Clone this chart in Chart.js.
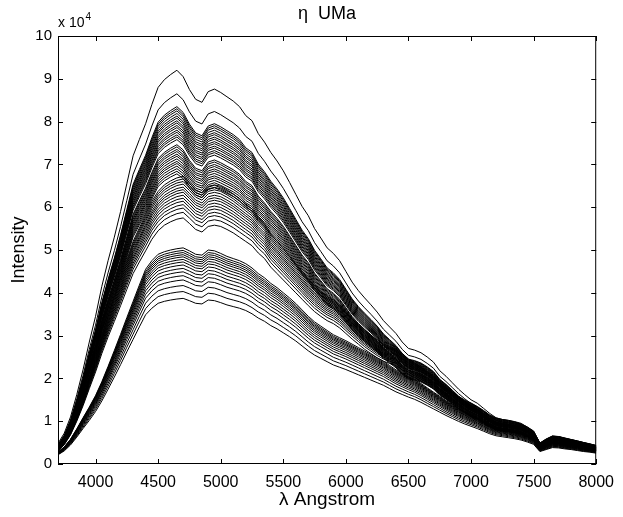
<!DOCTYPE html>
<html>
<head>
<meta charset="utf-8">
<script src="https://cdn.jsdelivr.net/npm/chart.js@4.4.0/dist/chart.umd.min.js"></script>
<style>
  html, body { margin: 0; padding: 0; background: #fff; }
</style>
</head>
<body>
<canvas id="spectraChart" width="623" height="517"></canvas>
<script>
// wavelength samples (Angstrom)
const lambda = [
  3700, 3750, 3800, 3850, 3900, 3950, 4000, 4050, 4100, 4150, 4200, 4250, 4300, 4350, 4400,
  4450, 4500, 4550, 4600, 4650, 4700, 4750, 4800, 4850, 4900, 4950, 5000, 5050, 5100, 5150,
  5200, 5250, 5300, 5350, 5400, 5450, 5500, 5550, 5600, 5650, 5700, 5750, 5800, 5850, 5900,
  5950, 6000, 6050, 6100, 6150, 6200, 6250, 6300, 6350, 6400, 6450, 6500, 6550, 6600, 6650,
  6700, 6750, 6800, 6850, 6900, 6950, 7000, 7050, 7100, 7150, 7200, 7250, 7300, 7350, 7400,
  7450, 7500, 7550, 7600, 7650, 7700, 7750, 7800, 7850, 7900, 7950, 8000
];

// brightest spectrum (x 10^4)
const curveBright = [
  0.48, 0.72, 1.10, 1.62, 2.20, 2.85, 3.45, 4.15, 4.75, 5.30, 5.90, 6.55, 7.20, 7.58, 7.95,
  8.40, 8.80, 8.98, 9.10, 9.20, 9.05, 8.75, 8.52, 8.45, 8.70, 8.76, 8.68, 8.58, 8.48, 8.35,
  8.14, 8.02, 7.72, 7.52, 7.28, 7.08, 6.85, 6.58, 6.30, 6.02, 5.80, 5.50, 5.28, 5.05, 4.92,
  4.75, 4.50, 4.25, 4.05, 3.88, 3.72, 3.55, 3.35, 3.20, 3.05, 2.85, 2.70, 2.66, 2.60, 2.50,
  2.38, 2.18, 2.05, 1.90, 1.75, 1.62, 1.50, 1.42, 1.30, 1.18, 1.08, 1.04, 1.02, 0.99, 0.95,
  0.86, 0.75, 0.48, 0.56, 0.65, 0.64, 0.60, 0.57, 0.54, 0.50, 0.47, 0.43
];

// faintest spectrum of the upper bundle
const curveMid = [
  0.30, 0.45, 0.68, 1.00, 1.36, 1.76, 2.15, 2.58, 2.97, 3.33, 3.70, 4.08, 4.45, 4.72, 4.98,
  5.25, 5.45, 5.58, 5.66, 5.72, 5.75, 5.62, 5.48, 5.42, 5.55, 5.58, 5.55, 5.48, 5.40, 5.30,
  5.20, 5.10, 4.93, 4.80, 4.60, 4.45, 4.30, 4.15, 4.00, 3.85, 3.70, 3.56, 3.45, 3.35, 3.28,
  3.18, 3.05, 2.92, 2.80, 2.68, 2.58, 2.48, 2.40, 2.35, 2.30, 2.20, 2.10, 2.02, 1.94, 1.85,
  1.76, 1.64, 1.53, 1.44, 1.35, 1.28, 1.22, 1.15, 1.07, 0.98, 0.92, 0.89, 0.87, 0.84, 0.80,
  0.74, 0.66, 0.42, 0.50, 0.56, 0.55, 0.52, 0.49, 0.46, 0.43, 0.40, 0.37
];

// top spectrum of the lower bundle
const curveLow = [
  0.28, 0.40, 0.58, 0.82, 1.08, 1.33, 1.60, 1.92, 2.28, 2.65, 3.03, 3.42, 3.80, 4.18, 4.55,
  4.75, 4.90, 4.96, 5.00, 5.03, 5.05, 4.98, 4.90, 4.88, 5.00, 4.98, 4.92, 4.85, 4.80, 4.75,
  4.68, 4.58, 4.45, 4.35, 4.22, 4.12, 4.00, 3.88, 3.75, 3.60, 3.45, 3.32, 3.22, 3.12, 3.02,
  2.95, 2.88, 2.80, 2.72, 2.64, 2.56, 2.48, 2.40, 2.30, 2.20, 2.12, 2.04, 1.97, 1.88, 1.78,
  1.68, 1.58, 1.48, 1.39, 1.30, 1.22, 1.15, 1.08, 1.00, 0.92, 0.86, 0.83, 0.80, 0.77, 0.73,
  0.67, 0.60, 0.38, 0.44, 0.50, 0.49, 0.46, 0.44, 0.41, 0.38, 0.36, 0.33
];

// peak heights of the individual spectra (x 10^4)
const peaksBright = [9.2, 8.65, 8.35, 8.3, 8.25, 8.19, 8.13, 8.08, 8.02, 7.97, 7.91, 7.86, 7.8,
  7.75, 7.69, 7.64, 7.58, 7.46, 7.41, 7.35, 7.3, 7.24, 7.19, 7.13, 7.07, 7.02, 6.96, 6.9, 6.84,
  6.78];
const peaksMid = [6.72, 6.66, 6.6, 6.54, 6.47, 6.41, 6.35, 6.28, 6.21, 6.14, 6.06, 5.98, 5.88,
  5.75];
const peaksLow = [5.05, 4.99, 4.94, 4.89, 4.84, 4.78, 4.72, 4.65, 4.57, 4.49, 4.4, 4.3, 4.17,
  4.03, 3.87];

const xTicks = [4000, 4500, 5000, 5500, 6000, 6500, 7000, 7500, 8000];
const yTicks = [0, 1, 2, 3, 4, 5, 6, 7, 8, 9, 10];

function makeSet(curve, peak) {
  const top = Math.max(...curve);
  return {
    data: lambda.map((w, i) => ({ x: w, y: curve[i] * peak / top })),
    borderColor: '#000',
    borderWidth: 1,
    pointRadius: 0,
    tension: 0,
    fill: false
  };
}

const datasets = [
  ...peaksBright.map(p => makeSet(curveBright, p)),
  ...peaksMid.map(p => makeSet(curveMid, p)),
  ...peaksLow.map(p => makeSet(curveLow, p))
];

const FONT = 'Liberation Sans, Arial, Helvetica, sans-serif';

// box, inward ticks and the text around the axes
const frame = {
  id: 'frame',
  afterDraw(chart) {
    const { ctx, chartArea: a, scales: { x, y } } = chart;
    ctx.save();
    ctx.strokeStyle = '#000';
    ctx.lineWidth = 1;
    ctx.strokeRect(a.left + 0.5, a.top + 0.5, a.right - a.left - 1, a.bottom - a.top - 1);
    ctx.beginPath();
    xTicks.forEach(v => {
      const px = Math.round(x.getPixelForValue(v)) + 0.5;
      ctx.moveTo(px, a.bottom); ctx.lineTo(px, a.bottom - 5);
      ctx.moveTo(px, a.top); ctx.lineTo(px, a.top + 5);
    });
    yTicks.forEach(v => {
      const py = Math.round(y.getPixelForValue(v)) + 0.5;
      ctx.moveTo(a.left, py); ctx.lineTo(a.left + 5, py);
      ctx.moveTo(a.right, py); ctx.lineTo(a.right - 5, py);
    });
    ctx.stroke();

    ctx.fillStyle = '#000';
    ctx.textAlign = 'center';
    ctx.textBaseline = 'alphabetic';
    ctx.font = '18px ' + FONT;
    ctx.fillText('η  UMa', (a.left + a.right) / 2, 19);
    ctx.font = '19px ' + FONT;
    ctx.fillText('λ Angstrom', (a.left + a.right) / 2, 505);

    ctx.textAlign = 'left';
    ctx.font = '14px ' + FONT;
    ctx.fillText('x 10', a.left, 27);
    const w = ctx.measureText('x 10').width;
    ctx.font = '10px ' + FONT;
    ctx.fillText('4', a.left + w + 1, 20);

    ctx.save();
    ctx.translate(24, (a.top + a.bottom) / 2);
    ctx.rotate(-Math.PI / 2);
    ctx.textAlign = 'center';
    ctx.font = '18px ' + FONT;
    ctx.fillText('Intensity', 0, 0);
    ctx.restore();
    ctx.restore();
  }
};

new Chart(document.getElementById('spectraChart'), {
  type: 'line',
  data: { datasets },
  options: {
    responsive: false,
    animation: false,
    devicePixelRatio: 1,
    layout: { padding: { left: 0, top: 36, right: 20, bottom: 0 } },
    plugins: { legend: { display: false }, tooltip: { enabled: false }, title: { display: false } },
    scales: {
      x: {
        type: 'linear',
        min: 3700,
        max: 8000,
        afterFit(s) { s.height = 53; },
        afterBuildTicks(s) { s.ticks = xTicks.map(v => ({ value: v })); },
        grid: { display: false, drawTicks: false },
        border: { display: false },
        ticks: { color: '#000', font: { size: 16, family: FONT }, padding: 9, maxRotation: 0,
          callback: v => String(v) }
      },
      y: {
        min: 0,
        max: 10,
        afterFit(s) { s.width = 58; },
        afterBuildTicks(s) { s.ticks = yTicks.map(v => ({ value: v })); },
        grid: { display: false, drawTicks: false },
        border: { display: false },
        ticks: { color: '#000', font: { size: 15, family: FONT }, padding: 6,
          callback: v => String(v) }
      }
    }
  },
  plugins: [frame]
});
</script>
</body>
</html>
